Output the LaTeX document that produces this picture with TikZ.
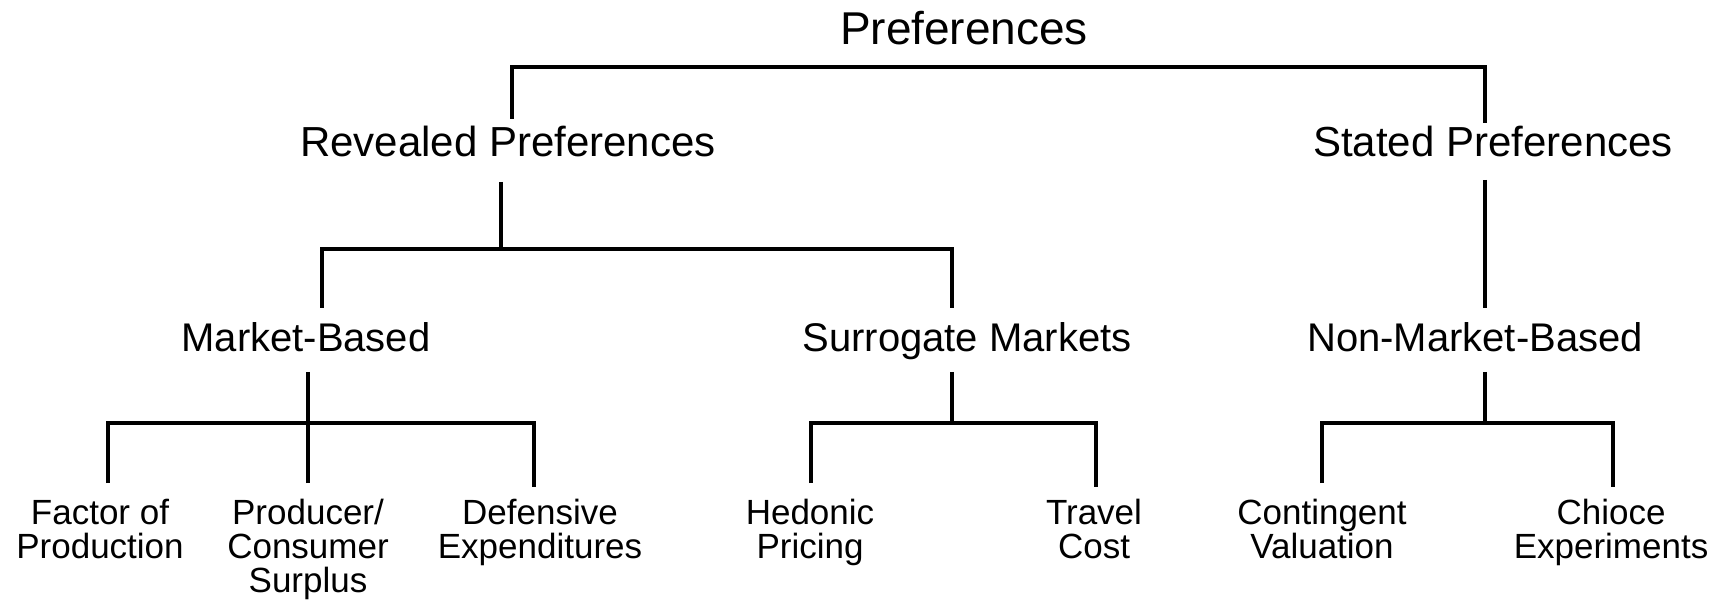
\documentclass[tikz,border=0pt]{standalone}
\usepackage{fontspec}
\setmainfont{Liberation Sans}
\begin{document}
\begin{tikzpicture}[x=1pt,y=1pt,
  conn/.style={draw=black,line width=3.5pt,line join=miter},
  lbl/.style={inner sep=0pt,anchor=base,text=black},
  ttl/.style={lbl,font=\fontsize{46}{50}\selectfont},
  lvone/.style={lbl,font=\fontsize{42}{46}\selectfont},
  lvtwo/.style={lbl,font=\fontsize{40}{44}\selectfont},
  leaf/.style={inner sep=0pt,anchor=north,align=center,text=black,font=\fontsize{35}{34}\selectfont}]
\useasboundingbox (0,0) rectangle (1723,600);
\fill[white] (0,0) rectangle (1723,600);
% nodes
\node[ttl] (pref) at (964,555) {Preferences};
\node[lvone] (rev) at (508,443) {Revealed Preferences};
\node[lvone] (sta) at (1493,443) {Stated Preferences};
\node[lvtwo] (mkt) at (306,248) {Market-Based};
\node[lvtwo] (sur) at (967,248) {Surrogate Markets};
\node[lvtwo] (non) at (1475,248) {Non-Market-Based};
\node[leaf] (fac) at (100,101) {Factor of\\Production};
\node[leaf] (pro) at (308,101) {Producer/\\Consumer\\Surplus};
\node[leaf] (def) at (540,101) {Defensive\\Expenditures};
\node[leaf] (hed) at (810,101) {Hedonic\\Pricing};
\node[leaf] (tra) at (1094,101) {Travel\\Cost};
\node[leaf] (con) at (1322,101) {Contingent\\Valuation};
\node[leaf] (chi) at (1611,101) {Chioce\\Experiments};
% junction coordinates
\coordinate (r0) at (512,481);  \coordinate (s0) at (1485,477);
\coordinate (b0) at (0,533);
\coordinate (r1) at (501,418);  \coordinate (b1) at (0,351);
\coordinate (m0) at (322,292);  \coordinate (u0) at (952,292);
\coordinate (s1) at (1485,420); \coordinate (n0) at (1485,292);
\coordinate (m1) at (308,228);  \coordinate (u1) at (952,228); \coordinate (n1) at (1485,228);
\coordinate (b2) at (0,177);
\coordinate (fa) at (108,117);  \coordinate (pr) at (308,117);  \coordinate (de) at (534,113);
\coordinate (he) at (811,117);  \coordinate (tr) at (1096,113);
\coordinate (co) at (1322,117); \coordinate (ch) at (1613,113);
% connectors
\draw[conn] (r0) -- (r0 |- b0) -- (s0 |- b0) -- (s0);
\draw[conn] (r1) -- (r1 |- b1);
\draw[conn] (m0) -- (m0 |- b1) -- (u0 |- b1) -- (u0);
\draw[conn] (s1) -- (n0);
\draw[conn] (m1) -- (m1 |- b2);
\draw[conn] (fa) -- (fa |- b2) -- (de |- b2) -- (de);
\draw[conn] (pr) -- (pr |- b2);
\draw[conn] (u1) -- (u1 |- b2);
\draw[conn] (he) -- (he |- b2) -- (tr |- b2) -- (tr);
\draw[conn] (n1) -- (n1 |- b2);
\draw[conn] (co) -- (co |- b2) -- (ch |- b2) -- (ch);
\end{tikzpicture}
\end{document}
